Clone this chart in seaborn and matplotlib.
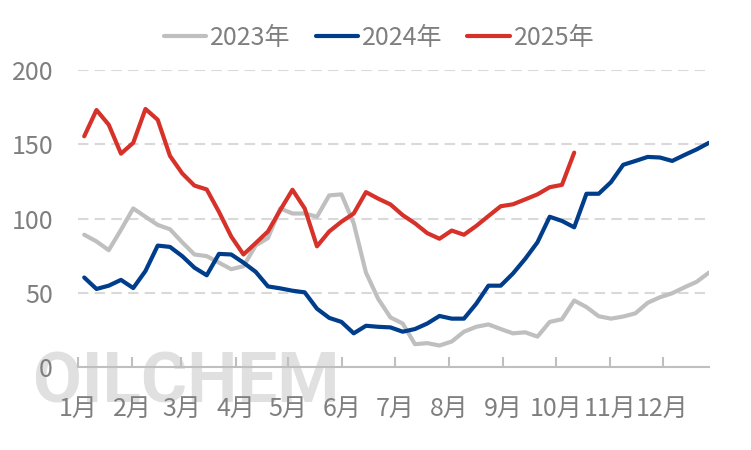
import numpy as np
import pandas as pd
import matplotlib
matplotlib.use('Agg')
import matplotlib.pyplot as plt
import seaborn as sns

# weekly values
v2023 = [89.2, 84.7, 78.8, 92.5, 106.9, 101.3, 95.8, 92.9, 84.1, 75.9,
         74.8, 70.4, 66.0, 68.0, 82.0, 87.0, 106.9, 103.5, 103.5, 101.3,
         115.7, 116.4, 96.9, 63.7, 46.0, 33.5, 29.4, 15.5, 16.2, 14.6,
         17.3, 23.9, 27.2, 28.8, 25.7, 22.8, 23.5, 20.6, 30.5, 32.3,
         44.9, 40.5, 34.3, 32.7, 34.1, 36.3, 43.4, 47.1, 49.8, 53.8,
         57.5, 63.7]
v2024 = [60.4, 52.7, 54.9, 58.8, 53.3, 64.8, 81.9, 81.0, 74.8, 67.0,
         61.9, 76.3, 75.9, 70.4, 64.2, 54.4, 53.1, 51.5, 50.4, 39.4,
         33.2, 30.5, 22.8, 27.9, 27.2, 26.8, 23.9, 25.7, 29.4, 34.5,
         32.7, 32.7, 42.7, 54.9, 54.9, 63.1, 73.0, 84.1, 101.3, 98.5,
         94.2, 116.8, 116.8, 124.6, 136.3, 138.9, 141.6, 141.2, 138.9, 142.9,
         146.7, 151.1]
v2025 = [155.5, 173.2, 163.3, 143.8, 151.1, 173.9, 166.6, 142.3, 130.5, 122.3,
         119.7, 104.6, 88.0, 75.9, 83.6, 91.4, 105.8, 119.5, 106.9, 81.4,
         91.4, 98.0, 103.5, 117.9, 113.5, 109.6, 102.4, 96.9, 90.3, 86.5,
         92.0, 89.2, 95.1, 101.8, 108.4, 109.7, 113.0, 116.4, 121.2, 122.8,
         144.5]
years = ['2023年', '2024年', '2025年']
months = ['1月', '2月', '3月', '4月', '5月', '6月', '7月', '8月', '9月', '10月', '11月', '12月']
month_days = [31, 28, 31, 30, 31, 30, 31, 31, 30, 31, 30, 31]

rows = []
for name, vals in zip(years, [v2023, v2024, v2025]):
    for i, v in enumerate(vals):
        rows.append({'week': i, 'value': v, 'year': name})
df = pd.DataFrame(rows)

sns.set_theme(style='white')
plt.rcParams['font.family'] = ['Noto Sans CJK SC', 'DejaVu Sans']

fig = plt.figure(figsize=(7.51, 4.5), dpi=100)
ax = fig.add_axes([0.104, 0.184, 0.84, 0.66])

palette = {'2023年': '#BFBFBF', '2024年': '#003D8A', '2025年': '#D7322A'}
sns.lineplot(data=df, x='week', y='value', hue='year', palette=palette,
             linewidth=3, ax=ax, zorder=3)

ax.set_ylim(0, 200)
ax.set_xlim(-0.5, 51)
ax.set_yticks([0, 50, 100, 150, 200])
for y in [50, 100, 150, 200]:
    ax.axhline(y, color='#D9D9D9', lw=1.5, ls=(0, (5, 3)), zorder=1)

# month ticks in week units
starts = np.cumsum([0] + month_days[:-1]) / 7.0 - 0.5
ax.set_xticks(starts)
ax.set_xticklabels(months)
ax.set_xlabel('')
ax.set_ylabel('')

for s in ['top', 'right', 'left']:
    ax.spines[s].set_visible(False)
ax.spines['bottom'].set_color('#BFBFBF')
ax.spines['bottom'].set_linewidth(1.5)
ax.tick_params(axis='x', direction='in', length=7, width=1.5, color='#BFBFBF',
               labelsize=18, labelcolor='#7F7F7F', pad=21, bottom=True)
ax.tick_params(axis='y', length=0, labelsize=18, labelcolor='#7F7F7F', pad=18)

# watermark
ax.text(-0.0713, -0.118, 'OILCHEM', transform=ax.transAxes, fontsize=51,
        fontweight='bold', color='#E0E0E0', family='Roboto',
        ha='left', va='baseline', clip_on=False, zorder=0)
ax.patch.set_alpha(0)

sns.move_legend(ax, 'center', bbox_to_anchor=(0.477, 1.11), ncol=3,
                frameon=False, title=None, fontsize=18, handlelength=1.7,
                columnspacing=1.0, handletextpad=0.15, labelcolor='#7F7F7F')

fig.savefig('out.png', dpi=100)
